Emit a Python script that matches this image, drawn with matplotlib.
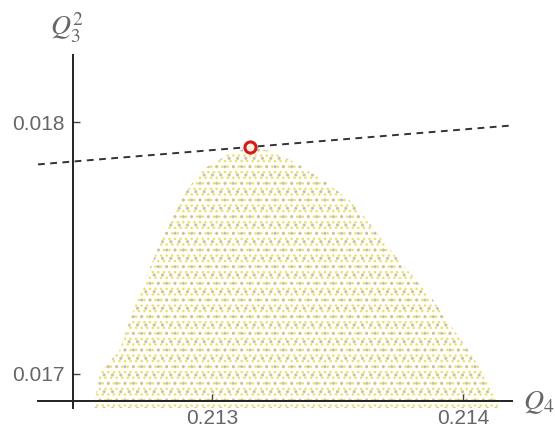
import numpy as np
import matplotlib.pyplot as plt

plt.rcParams['mathtext.fontset'] = 'stix'
plt.rcParams['hatch.linewidth'] = 1.0

# upper edge of the sampled region (Q4, Q3^2)
q4_edge = [0.21253, 0.21255, 0.21263, 0.21270, 0.21278, 0.21287, 0.21296,
           0.21306, 0.21315, 0.21323, 0.21333, 0.21345, 0.21357, 0.21371,
           0.21388, 0.21402, 0.21410, 0.21414]
q3sq_edge = [0.016877, 0.017000, 0.017095, 0.017294, 0.017492, 0.017690, 0.017810,
             0.017870, 0.017901, 0.017885, 0.017840, 0.017765, 0.017670, 0.017492,
             0.017294, 0.017095, 0.016976, 0.016897]

# tangent point and slope of the dashed line
tangent_q4 = 0.213151
tangent_q3sq = 0.017901
tangent_slope = 0.0818

x_ticks = [0.213, 0.214]
y_ticks = [0.017, 0.018]
x_origin = 0.212446
y_origin = 0.016893
x_range = (0.212305, 0.214195)
y_range = (0.016865, 0.018266)

fig = plt.figure(figsize=(5.55, 4.33), dpi=100)
ax = fig.add_axes([38 / 555, 1 - 408 / 433, 474 / 555, 353 / 433])
ax.set_xlim(*x_range)
ax.set_ylim(*y_range)

# dotted cloud of sample points
ax.fill_between(q4_edge, q3sq_edge, y_range[0], facecolor='#fffef8',
                edgecolor='#ece070', hatch='...', linewidth=0, zorder=1)
ax.fill_between(q4_edge, q3sq_edge, y_range[0], facecolor='none',
                edgecolor='#c6c2ae', hatch='..', linewidth=0, zorder=1)

# tangent line
xs = np.array(x_range)
ax.plot(xs, tangent_q3sq + tangent_slope * (xs - tangent_q4), ls=(0, (3.5, 2.8)),
        color='#333333', lw=1.4, zorder=3)
ax.plot([tangent_q4], [tangent_q3sq], 'o', ms=8, mfc='#fff4e0', mec='#d41a1a',
        mew=2.2, zorder=4)

for s in ['top', 'right']:
    ax.spines[s].set_visible(False)
ax.spines['left'].set_position(('data', x_origin))
ax.spines['bottom'].set_position(('data', y_origin))
for s in ['left', 'bottom']:
    ax.spines[s].set_color('#222222')
    ax.spines[s].set_linewidth(1.4)

ax.set_xticks(x_ticks)
ax.set_yticks(y_ticks)
ax.set_xticklabels(['0.213', '0.214'])
ax.set_yticklabels(['0.017', '0.018'])
ax.tick_params(direction='in', length=5, width=1, color='#444444',
               labelsize=15, labelcolor='#666666', pad=6)
for lab in ax.get_xticklabels() + ax.get_yticklabels():
    lab.set_family('Liberation Sans')

fig.text(523 / 555, 1 - 402 / 433, r'$Q_4$', fontsize=20, color='#666666',
         ha='left', va='center')
fig.text(67 / 555, 1 - 28 / 433, r'$Q_3^2$', fontsize=20, color='#666666',
         ha='center', va='center')

fig.savefig('out.png', dpi=100)
